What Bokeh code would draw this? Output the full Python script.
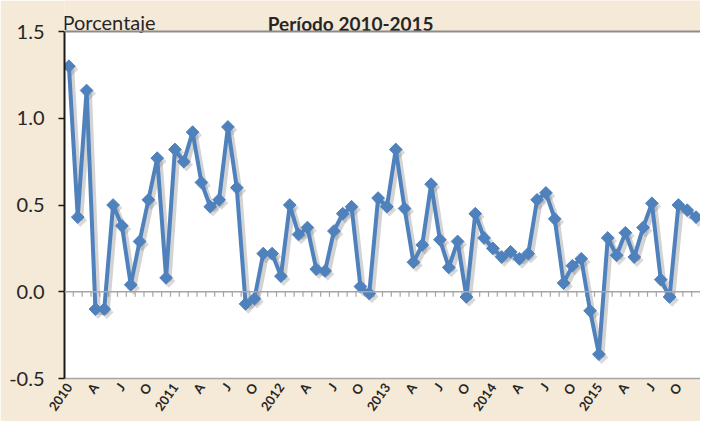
import math
from bokeh.plotting import figure
from bokeh.models import (ColumnDataSource, Range1d, FixedTicker, LinearAxis, Span,
                          NumeralTickFormatter)
from bokeh.core.properties import value
from bokeh.transform import dodge
from bokeh.embed import file_html
from bokeh.resources import INLINE

# ---- data (monthly, Jan 2010 - Dec 2015) ----
v2010 = [1.30, 0.43, 1.16, -0.10, -0.10, 0.50, 0.38, 0.04, 0.29, 0.53, 0.77, 0.08]
v2011 = [0.82, 0.75, 0.92, 0.63, 0.49, 0.53, 0.95, 0.60, -0.07, -0.04, 0.22, 0.22]
v2012 = [0.09, 0.50, 0.33, 0.37, 0.13, 0.12, 0.35, 0.45, 0.49, 0.03, -0.01, 0.54]
v2013 = [0.49, 0.82, 0.48, 0.17, 0.27, 0.62, 0.30, 0.14, 0.29, -0.03, 0.45, 0.31]
v2014 = [0.25, 0.20, 0.23, 0.19, 0.22, 0.53, 0.57, 0.42, 0.05, 0.15, 0.19, -0.11]
v2015 = [-0.36, 0.31, 0.21, 0.34, 0.20, 0.37, 0.51, 0.07, -0.03, 0.50, 0.47, 0.43]
years = ["2010", "2011", "2012", "2013", "2014", "2015"]
quarter_labels = ["A", "J", "O"]
y_ticks = [-0.5, 0.0, 0.5, 1.0, 1.5]
y_label = "Porcentaje"
title = "Período 2010-2015"

values = v2010 + v2011 + v2012 + v2013 + v2014 + v2015
n = len(values)
xs = [i + 0.5 for i in range(n)]
src = ColumnDataSource(dict(x=xs, y=values))

tick_pos = []
tick_text = {}
for yi, yr in enumerate(years):
    for q, lab in enumerate([yr] + quarter_labels):
        pos = yi * 12 + q * 3 + 0.5
        tick_pos.append(pos)
        tick_text[pos] = lab

BG = "#F5E9D7"
BLUE = "#4F81BD"
TXT = "#262626"
FONT = "Lato"

YMIN, YMAX = y_ticks[0], y_ticks[-1]
HEADER = 31                      # px of beige band above the plot area
FRAME_H = 378                    # expected frame height
PX_PER_UNIT = (FRAME_H - HEADER) / (YMAX - YMIN)
YTOP = YMAX + HEADER / PX_PER_UNIT

p = figure(width=700, height=421, output_backend="svg", toolbar_location=None,
           x_range=Range1d(0, n), y_range=Range1d(YMIN, YTOP),
           min_border_left=64, min_border_right=0, min_border_top=0, min_border_bottom=40,
           x_axis_location=None, y_axis_location=None)
p.background_fill_color = BG
p.border_fill_color = BG
p.outline_line_color = None
p.xgrid.visible = False
p.ygrid.visible = False

# white plot area
p.quad(left=[0], right=[n], bottom=[YMIN], top=[YMAX], fill_color="white", line_color=None)

# y axis
yax = LinearAxis(ticker=FixedTicker(ticks=y_ticks), formatter=NumeralTickFormatter(format="0.0"),
                 bounds=(YMIN, YMAX))
yax.axis_line_color = "#1a1a1a"
yax.axis_line_width = 2
yax.major_tick_line_color = "#1a1a1a"
yax.major_tick_line_width = 1.5
yax.major_tick_out = 6
yax.major_tick_in = 0
yax.minor_tick_line_color = None
yax.major_label_text_font = FONT
yax.major_label_text_font_size = "20px"
yax.major_label_text_color = TXT
yax.major_label_standoff = 14
p.add_layout(yax, "left")

# x axis (bottom)
xax = LinearAxis(ticker=FixedTicker(ticks=tick_pos), major_label_overrides=tick_text)
xax.axis_line_color = "#a6a6a6"
xax.axis_line_width = 1.5
xax.major_tick_line_color = None
xax.minor_tick_line_color = None
xax.major_label_text_font = FONT
xax.major_label_text_font_size = "13px"
xax.major_label_text_font_style = "bold"
xax.major_label_text_color = TXT
xax.major_label_orientation = math.radians(55)
xax.major_label_standoff = 0
p.add_layout(xax, "below")

# top border of plot area
p.add_layout(Span(location=YMAX, dimension="width", line_color="#8c8c8c", line_width=2))

# zero line with category tick marks
p.add_layout(Span(location=0, dimension="width", line_color="#a6a6a6", line_width=1.5))
bounds = list(range(1, n + 1))
p.segment(x0=bounds, y0=[0] * n, x1=bounds, y1=[-5 / PX_PER_UNIT] * n,
          line_color="#a6a6a6", line_width=1.2)

# shadow
p.line(x=dodge("x", 0.3, range=p.x_range), y=dodge("y", -0.018, range=p.y_range), source=src,
       line_color="#808080", line_alpha=0.35, line_width=5.5)
p.scatter(x=dodge("x", 0.3, range=p.x_range), y=dodge("y", -0.018, range=p.y_range), source=src,
          marker="square", angle=math.pi / 4, size=9.5, fill_color="#808080", fill_alpha=0.3,
          line_color=None)

# series
p.line(x="x", y="y", source=src, line_color=BLUE, line_width=4, line_join="round")
p.scatter(x="x", y="y", source=src, marker="square", angle=math.pi / 4, size=9,
          fill_color=BLUE, line_color=BLUE)

# header texts (inside the beige band above the plot area)
p.text(x=[0], y=[YMAX + 10 / PX_PER_UNIT], text=[y_label], x_offset=-2,
       text_font=value(FONT), text_font_size="20px", text_color=TXT,
       text_baseline="alphabetic", text_align="left")
p.text(x=[32.4], y=[YMAX + 8 / PX_PER_UNIT], text=[title],
       text_font=value(FONT), text_font_size="19px", text_font_style="bold",
       text_color=TXT, text_baseline="alphabetic", text_align="center")

open("out.html", "w").write(file_html(p, INLINE))
